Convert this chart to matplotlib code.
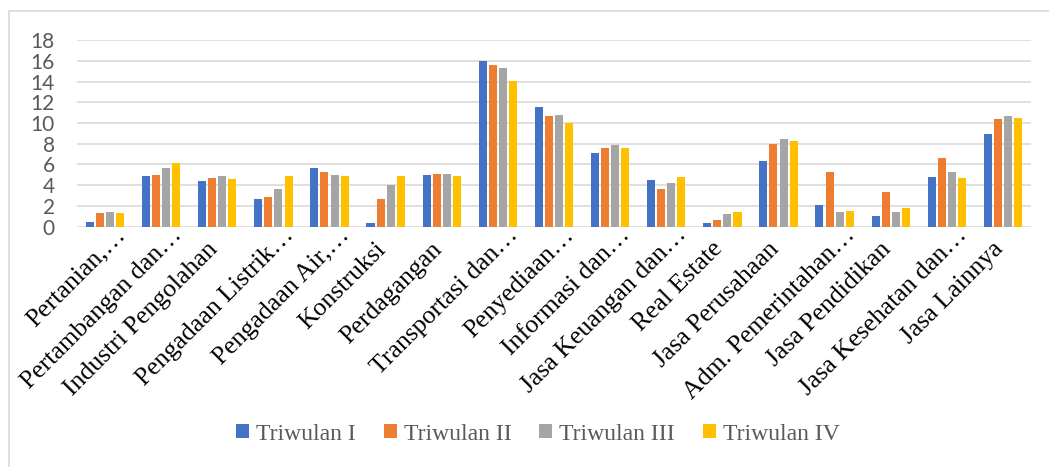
import numpy as np
import matplotlib.pyplot as plt
from matplotlib.patches import Rectangle
from matplotlib.transforms import ScaledTranslation

#===============================
# data
#===============================
categories = ["Pertanian,…", "Pertambangan dan…", "Industri Pengolahan",
              "Pengadaan Listrik…", "Pengadaan Air,…", "Konstruksi",
              "Perdagangan", "Transportasi dan…", "Penyediaan…",
              "Informasi dan…", "Jasa Keuangan dan…", "Real Estate",
              "Jasa Perusahaan", "Adm. Pemerintahan…", "Jasa Pendidikan",
              "Jasa Kesehatan dan…", "Jasa Lainnya"]
triwulan_1 = [0.42, 4.92, 4.40, 2.64, 5.69, 0.32, 4.95, 15.95, 11.54,
              7.10, 4.47, 0.35, 6.37, 2.12, 1.03, 4.76, 8.91]
triwulan_2 = [1.29, 4.98, 4.66, 2.89, 5.24, 2.67, 5.08, 15.63, 10.71,
              7.62, 3.63, 0.64, 8.00, 5.27, 3.31, 6.59, 10.39]
triwulan_3 = [1.38, 5.66, 4.86, 3.63, 4.98, 3.99, 5.08, 15.34, 10.80,
              7.91, 4.18, 1.19, 8.46, 1.45, 1.45, 5.27, 10.64]
triwulan_4 = [1.29, 6.11, 4.60, 4.92, 4.92, 4.92, 4.86, 14.02, 10.00,
              7.62, 4.79, 1.41, 8.23, 1.48, 1.77, 4.69, 10.51]
series_names = ["Triwulan I", "Triwulan II", "Triwulan III", "Triwulan IV"]
yticks = list(range(0, 19, 2))

#===============================
# plot
#===============================
colors = ["#4472C4", "#ED7D31", "#A5A5A5", "#FFC000"]
series = [triwulan_1, triwulan_2, triwulan_3, triwulan_4]

fig = plt.figure(figsize=(10.49, 4.67), dpi=100)
# plot area: x 77..1031 px, y 40..227 px
ax = fig.add_axes([77 / 1049, 0.5146, 954 / 1049, 0.3997])

x = np.arange(len(categories))
pitch = 0.18
for i, (vals, name, c) in enumerate(zip(series, series_names, colors)):
    ax.bar(x + (i - 1.5) * pitch, vals, width=0.143, color=c, label=name,
           zorder=3)

ax.set_xlim(-0.5, len(categories) - 0.5)
ax.set_ylim(0, 18)
ax.set_yticks(yticks)
ax.set_yticklabels([str(t) for t in yticks], fontfamily="Lato",
                   fontsize=15, color="#595959")
ax.yaxis.grid(True, color="#D9D9D9", linewidth=1.2, zorder=0)
ax.tick_params(axis="y", length=0, pad=16)
ax.tick_params(axis="x", length=0, pad=4)
for s in ax.spines.values():
    s.set_visible(False)

ax.set_xticks(x)
ax.set_xticklabels(categories, rotation=45, ha="right", va="center",
                   rotation_mode="anchor", fontfamily="Liberation Serif",
                   fontsize=18.5, color="black")
# excel lets the truncated ("…") labels run a bit further up the diagonal
for lab in ax.get_xticklabels():
    if lab.get_text().endswith("…"):
        dx, dy = 0.17, 0.005
    else:
        dx, dy = -0.03, -0.135
    lab.set_transform(lab.get_transform() +
                      ScaledTranslation(dx, dy, fig.dpi_scale_trans))

fig.legend(loc="center", bbox_to_anchor=(538 / 1049, 1 - 434 / 467),
           ncol=4, frameon=False, handlelength=0.55, handleheight=0.55,
           handletextpad=0.3, columnspacing=1.17,
           prop={"family": "Liberation Serif", "size": 17},
           labelcolor="#595959")

# outer chart border
fig.patches.append(Rectangle((8.5 / 1049, -0.1), 1.2, 1 - 11 / 467 + 0.1,
                             transform=fig.transFigure, fill=False,
                             edgecolor="#D9D9D9", linewidth=1.2))

fig.savefig("out.png", dpi=100)
